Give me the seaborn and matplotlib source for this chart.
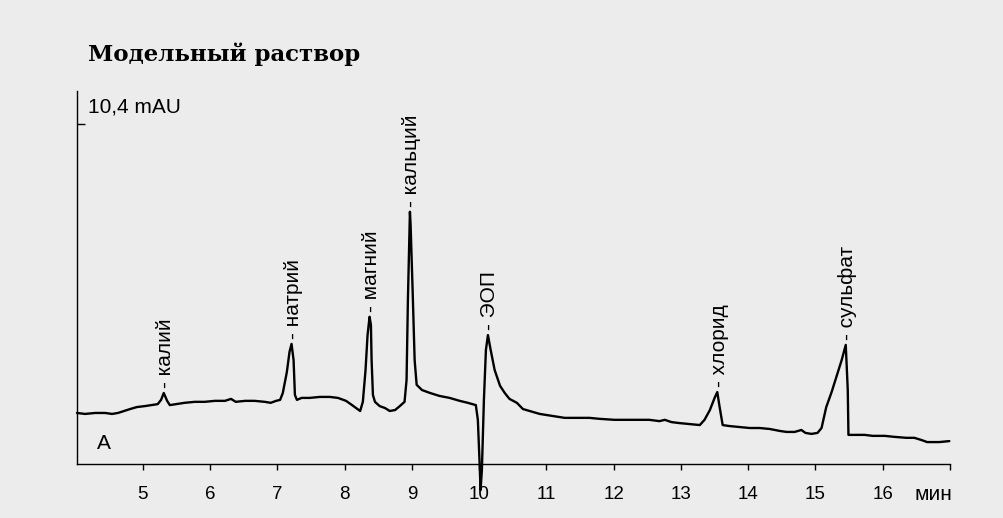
import matplotlib
matplotlib.use("Agg")
import matplotlib.pyplot as plt
import matplotlib.transforms as mtransforms
import numpy as np
import seaborn as sns

# retention time, min
time_min = [
    4.02, 4.14, 4.29, 4.44, 4.54, 4.63, 4.72, 4.81, 4.91, 5.03, 5.13, 5.22,
    5.27, 5.31, 5.36, 5.40, 5.49, 5.62, 5.77, 5.92, 6.07, 6.22, 6.31, 6.38,
    6.52, 6.66, 6.81, 6.90, 6.98, 7.04, 7.08, 7.14, 7.18, 7.21, 7.24, 7.26,
    7.29, 7.36, 7.48, 7.63, 7.78, 7.90, 8.02, 8.11, 8.23, 8.27, 8.31, 8.34,
    8.37, 8.39, 8.40, 8.42, 8.45, 8.52, 8.60, 8.67, 8.75, 8.82, 8.89, 8.92,
    8.94, 8.97, 8.98, 9.01, 9.04, 9.07, 9.15, 9.27, 9.41, 9.56, 9.71, 9.83,
    9.95, 9.98, 10.01, 10.02, 10.04, 10.07, 10.10, 10.13, 10.17, 10.23, 10.31,
    10.38, 10.45, 10.56, 10.65, 10.75, 10.90, 11.09, 11.27, 11.49, 11.64,
    11.79, 12.01, 12.19, 12.39, 12.53, 12.68, 12.76, 12.86, 12.98, 13.13,
    13.28, 13.35, 13.43, 13.50, 13.54, 13.57, 13.62, 13.72, 13.87, 14.02,
    14.17, 14.32, 14.47, 14.57, 14.69, 14.79, 14.85, 14.94, 15.03, 15.09,
    15.16, 15.24, 15.31, 15.39, 15.45, 15.48, 15.49, 15.58, 15.73, 15.85,
    16.03, 16.17, 16.35, 16.47, 16.58, 16.66, 16.84, 16.99,
]
# detector signal, mAU
signal_mau = [
    1.56, 1.53, 1.56, 1.56, 1.53, 1.56, 1.62, 1.68, 1.74, 1.77, 1.80, 1.83,
    1.96, 2.17, 1.93, 1.80, 1.83, 1.87, 1.90, 1.90, 1.93, 1.93, 1.99, 1.90,
    1.93, 1.93, 1.90, 1.87, 1.93, 1.96, 2.17, 2.81, 3.43, 3.67, 3.18, 2.11,
    1.96, 2.02, 2.02, 2.05, 2.05, 2.02, 1.93, 1.80, 1.62, 1.90, 2.87, 3.94,
    4.50, 4.25, 3.18, 2.11, 1.90, 1.77, 1.71, 1.62, 1.65, 1.77, 1.90, 2.57,
    5.02, 7.71, 7.31, 5.32, 3.18, 2.42, 2.26, 2.17, 2.08, 2.02, 1.93, 1.87,
    1.80, 1.35, -0.18, -0.80, -0.18, 1.96, 3.49, 3.94, 3.49, 2.87, 2.39,
    2.17, 1.99, 1.87, 1.68, 1.62, 1.53, 1.47, 1.41, 1.41, 1.41,
    1.38, 1.35, 1.35, 1.35, 1.35, 1.31, 1.35, 1.28, 1.25, 1.22,
    1.19, 1.35, 1.65, 2.02, 2.20, 1.80, 1.19, 1.16, 1.13, 1.10,
    1.10, 1.07, 1.01, 0.98, 0.98, 1.04, 0.95, 0.92, 0.95, 1.10,
    1.74, 2.20, 2.66, 3.18, 3.64, 2.26, 0.89, 0.89, 0.89, 0.86,
    0.86, 0.83, 0.80, 0.80, 0.73, 0.67, 0.67, 0.70,
]

peak_names = ["калий", "натрий", "магний", "кальций", "ЭОП", "хлорид", "сульфат"]
peak_times = [5.31, 7.21, 8.37, 8.97, 10.13, 13.54, 15.45]

x_ticks = [5, 6, 7, 8, 9, 10, 11, 12, 13, 14, 15, 16, 17]
x_labels = ["5", "6", "7", "8", "9", "10", "11", "12", "13", "14", "15", "16", ""]

bg = "#ececec"
sns.set_theme(style="white")
plt.rcParams["font.family"] = ["Liberation Sans", "DejaVu Sans"]
plt.rcParams["text.color"] = "black"

fig = plt.figure(figsize=(10.04, 5.18), dpi=100, facecolor=bg)
ax = fig.add_axes([77 / 1004, 1 - 464 / 518, 873 / 1004, 373 / 518])
ax.set_facecolor(bg)

sns.lineplot(x=time_min, y=signal_mau, ax=ax, color="black", linewidth=1.7,
             estimator=None, sort=False, clip_on=False)

ax.set_xlim(4.02, 17.0)
ax.set_ylim(0, 11.4)

for s in ["top", "right"]:
    ax.spines[s].set_visible(False)
for s in ["left", "bottom"]:
    ax.spines[s].set_color("black")
    ax.spines[s].set_linewidth(1.0)

ax.set_xticks(x_ticks)
ax.set_xticklabels(x_labels, fontsize=13.5)
ax.tick_params(axis="x", bottom=True, direction="out", length=4.5, width=1,
               pad=11, colors="black")
ax.set_yticks([10.4])
ax.set_yticklabels([""])
ax.tick_params(axis="y", left=True, direction="in", length=6, width=1, colors="black")
ax.set_xlabel("")
ax.set_ylabel("")

# peak labels
for name, t in zip(peak_names, peak_times):
    h = np.interp(t, time_min, signal_mau)
    ax.annotate("- " + name, xy=(t, h), xytext=(2, 5), textcoords="offset pixels",
                rotation=90, ha="center", va="bottom", fontsize=15, color="black")

trans = mtransforms.blended_transform_factory(ax.transAxes, ax.transData)
ax.text(0.0126, 10.62, "10,4 mAU", transform=trans, fontsize=15, color="black",
        ha="left", va="bottom")
ax.text(0.023, 0.45, "A", transform=trans, fontsize=15, color="black",
        ha="left", va="baseline")
ax.annotate("мин", xy=(17, 0), xytext=(2, -36), textcoords="offset pixels",
            ha="right", va="baseline", fontsize=15, color="black", annotation_clip=False)

fig.text(88 / 1004, 1 - 61 / 518, "Модельный раствор", fontsize=16.5,
         fontweight="bold", family=["DejaVu Serif", "Liberation Serif"], color="black",
         ha="left", va="baseline")

fig.savefig("out.png", dpi=100, facecolor=bg)
